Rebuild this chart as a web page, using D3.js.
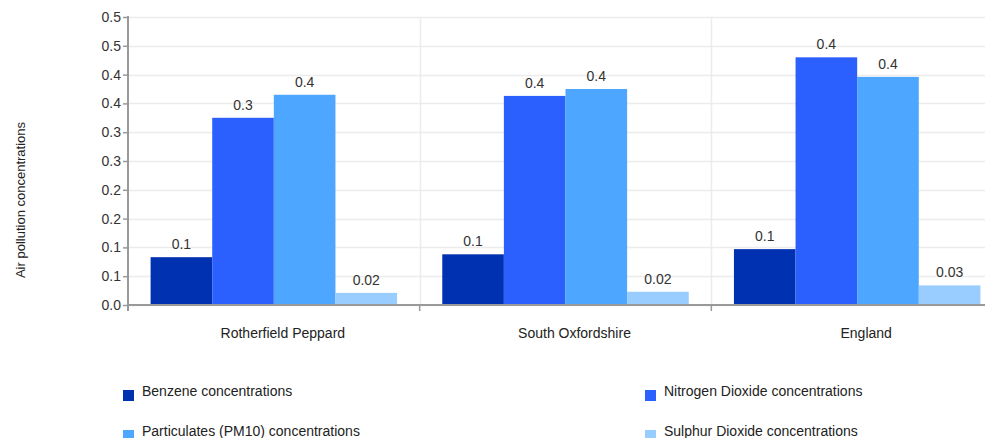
<!DOCTYPE html>
<html>
<head>
<meta charset="utf-8">
<script src="https://cdn.jsdelivr.net/npm/d3@7"></script>
<style>
  html, body { margin: 0; padding: 0; background: #fff; }
  svg { display: block; font-family: "Liberation Sans", Arial, sans-serif; }
</style>
</head>
<body>
<svg id="chart" width="985" height="438"></svg>
<script>
// ---- data ----
const categories = ["Rotherfield Peppard", "South Oxfordshire", "England"];
const seriesNames = [
  "Benzene concentrations",
  "Nitrogen Dioxide concentrations",
  "Particulates (PM10) concentrations",
  "Sulphur Dioxide concentrations"
];
const benzene   = [0.083, 0.088, 0.097];
const nitrogen  = [0.325, 0.363, 0.430];
const pm10      = [0.365, 0.375, 0.396];
const sulphur   = [0.021, 0.023, 0.034];
const tickValues = [0, 0.05, 0.1, 0.15, 0.2, 0.25, 0.3, 0.35, 0.4, 0.45, 0.5];
const tickLabels = ["0.0", "0.1", "0.1", "0.2", "0.2", "0.3", "0.3", "0.4", "0.4", "0.5", "0.5"];
const colors = ["#0031b0", "#2b60ff", "#4da6ff", "#99ccff"];
const yTitle = "Air pollution concentrations";

const seriesValues = [benzene, nitrogen, pm10, sulphur];

// ---- layout ----
const svg = d3.select("#chart");
const pLeft = 128, pRight = 1003, pTop = 17, pBottom = 305;

const x0 = d3.scaleBand().domain(categories).range([pLeft, pRight]);
const x1 = d3.scaleBand().domain(seriesNames).range([22.6, x0.bandwidth() - 22.6]);
const y = d3.scaleLinear().domain([0, 0.5]).range([pBottom, pTop]);

const fmt = v => { const s = d3.format(".1f")(v); return s === "0.0" ? d3.format(".2f")(v) : s; };

// horizontal grid
svg.append("g").selectAll("line").data(tickValues).join("line")
  .attr("x1", pLeft).attr("x2", 985)
  .attr("y1", d => Math.round(y(d)) + 0.5).attr("y2", d => Math.round(y(d)) + 0.5)
  .attr("stroke", "#ececec").attr("stroke-width", 1.5);

// vertical grid at band boundaries
const bounds = categories.map(c => x0(c)).concat([pRight]);
svg.append("g").selectAll("line").data(bounds.slice(1)).join("line")
  .attr("x1", d => Math.round(d) + 0.5).attr("x2", d => Math.round(d) + 0.5)
  .attr("y1", pTop).attr("y2", pBottom)
  .attr("stroke", "#ececec").attr("stroke-width", 1.5);

// bars
const groups = svg.append("g").selectAll("g").data(categories).join("g")
  .attr("transform", c => `translate(${x0(c)},0)`);

groups.selectAll("rect").data((c, i) => seriesNames.map((s, j) => ({ s, v: seriesValues[j][i], j })))
  .join("rect")
  .attr("x", d => x1(d.s)).attr("width", x1.bandwidth())
  .attr("y", d => y(d.v)).attr("height", d => y(0) - y(d.v))
  .attr("fill", d => colors[d.j]);

groups.selectAll("text").data((c, i) => seriesNames.map((s, j) => ({ s, v: seriesValues[j][i], j })))
  .join("text")
  .attr("x", d => x1(d.s) + x1.bandwidth() / 2)
  .attr("y", d => y(d.v) - 8)
  .attr("text-anchor", "middle")
  .attr("font-size", 14).attr("fill", "#333")
  .text(d => fmt(d.v));

// y axis
const yAxis = d3.axisLeft(y).tickValues(tickValues)
  .tickFormat((d, i) => tickLabels[i]).tickSize(5).tickPadding(2);
const gy = svg.append("g").attr("transform", `translate(${pLeft},0)`).call(yAxis);
gy.select(".domain").attr("stroke", "#999").attr("stroke-width", 2)
  .attr("d", `M0,${pTop - 1}V${pBottom + 6}`);
gy.selectAll(".tick line").attr("stroke", "#999").attr("stroke-width", 1.5);
gy.selectAll(".tick text").attr("font-size", 14).attr("fill", "#333")
  .attr("font-family", "Liberation Sans, Arial, sans-serif");

// x axis
const gx = svg.append("g").attr("transform", `translate(0,${pBottom})`);
gx.append("line").attr("x1", pLeft).attr("x2", 985).attr("y1", 0).attr("y2", 0)
  .attr("stroke", "#999").attr("stroke-width", 2);
gx.selectAll("line.t").data(bounds).join("line").attr("class", "t")
  .attr("x1", d => d).attr("x2", d => d).attr("y1", 0).attr("y2", 6)
  .attr("stroke", "#999").attr("stroke-width", 1.5);
gx.selectAll("text").data(categories).join("text")
  .attr("x", c => x0(c) + x0.bandwidth() / 2 + 9)
  .attr("y", 33)
  .attr("text-anchor", "middle")
  .attr("font-size", 14).attr("fill", "#222")
  .text(c => c);

// y title
svg.append("text")
  .attr("transform", "translate(25,200) rotate(-90)")
  .attr("text-anchor", "middle")
  .attr("font-size", 13).attr("fill", "#222")
  .text(yTitle);

// legend
const legendX = [123, 645], legendY = [390, 430];
const lg = svg.append("g").selectAll("g").data(seriesNames).join("g")
  .attr("transform", (d, i) => `translate(${legendX[i % 2]},${legendY[Math.floor(i / 2)]})`);
lg.append("rect").attr("width", 11).attr("height", 11).attr("fill", (d, i) => colors[i]);
lg.append("text").attr("x", 19).attr("y", 6).attr("font-size", 14).attr("fill", "#222")
  .text(d => d);
</script>
</body>
</html>
